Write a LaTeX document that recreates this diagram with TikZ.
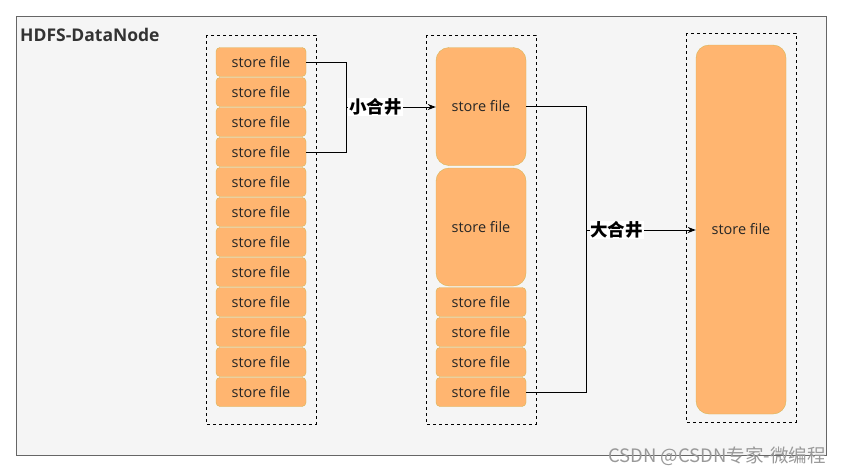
\documentclass[tikz,border=0pt]{standalone}
\usepackage{fontspec}
\setmainfont{Open Sans}
\newfontfamily\cjk{Noto Sans CJK SC}
\usepackage{tikz}
\usetikzlibrary{positioning,arrows.meta}

\definecolor{nodebg}{HTML}{F5F5F5}
\definecolor{nodeln}{HTML}{666666}
\definecolor{fileorange}{HTML}{FFB570}
\definecolor{fileline}{HTML}{D6B656}

\tikzset{
  sfile/.style={draw=fileline, fill=fileorange, rounded corners=4pt, minimum width=90, minimum height=29, inner sep=0pt, font=\fontsize{14.5}{16}\selectfont, text=black!85},
  bigfile/.style={sfile, rounded corners=13pt},
  dashbox/.style={draw=black, dashed, line width=0.8pt},
  merge/.style={draw=black, line width=0.9pt},
  mergelbl/.style={fill=white, inner sep=1pt, font=\cjk\bfseries\fontsize{17.5}{19}\selectfont},
}

\begin{document}
\begin{tikzpicture}[x=1pt,y=1pt,yscale=-1,xscale=1]
\useasboundingbox (0,0) rectangle (841,474);

%Shape: Rectangle DataNode
\draw [fill=nodebg, draw=nodeln, line width=0.9pt] (16.5,16.5) rectangle (826,455.5);
% Text Node
\node (title) [anchor=west, inner sep=0pt, font=\bfseries\fontsize{17.5}{19}\selectfont, text=black!80] at (20,35) {HDFS-DataNode};

%Shape: Rectangle (dashed groups)
\draw [dashbox] (206,35) rectangle (316,424);
\draw [dashbox] (426,35) rectangle (536,424);
\draw [dashbox] (686,33) rectangle (796,422);

% left column: small store files
\foreach \i in {1,...,12}
  \node (l\i) [sfile] at (261,{62+30*(\i-1)}) {store file};

% middle column
\node (m1) [bigfile, minimum height=118] at (481,106.5) {store file};
\node (m2) [bigfile, minimum height=118] at (481,227) {store file};
\foreach \i/\y in {3/302,4/332,5/362,6/392}
  \node (m\i) [sfile] at (481,\y) {store file};

% right column
\node (r1) [bigfile, minimum height=369] at (741,229.5) {store file};

%Straight Lines: minor merge
\draw [merge] (l1.east) -- (346,62) |- (l4.east);
\coordinate (smj) at (346,107);
\draw [merge, -{Stealth[length=8pt,width=6pt]}] (smj) -- (smj -| m1.west)
  node (smlbl) [mergelbl, pos=0.33] {小合井};

%Straight Lines: major merge
\draw [merge] (m1.east) -- (586,106.5) |- (m6.east);
\coordinate (bmj) at (586,230);
\draw [merge, -{Stealth[length=8pt,width=6pt]}] (bmj) -- (bmj -| r1.west)
  node (bmlbl) [mergelbl, pos=0.28] {大合井};

% watermark
\node (wm) [anchor=east, inner sep=0pt, text=black!40, font=\cjk\fontsize{18.5}{20}\selectfont] at (826,456) {CSDN @CSDN专家-微编程};

\end{tikzpicture}
\end{document}
